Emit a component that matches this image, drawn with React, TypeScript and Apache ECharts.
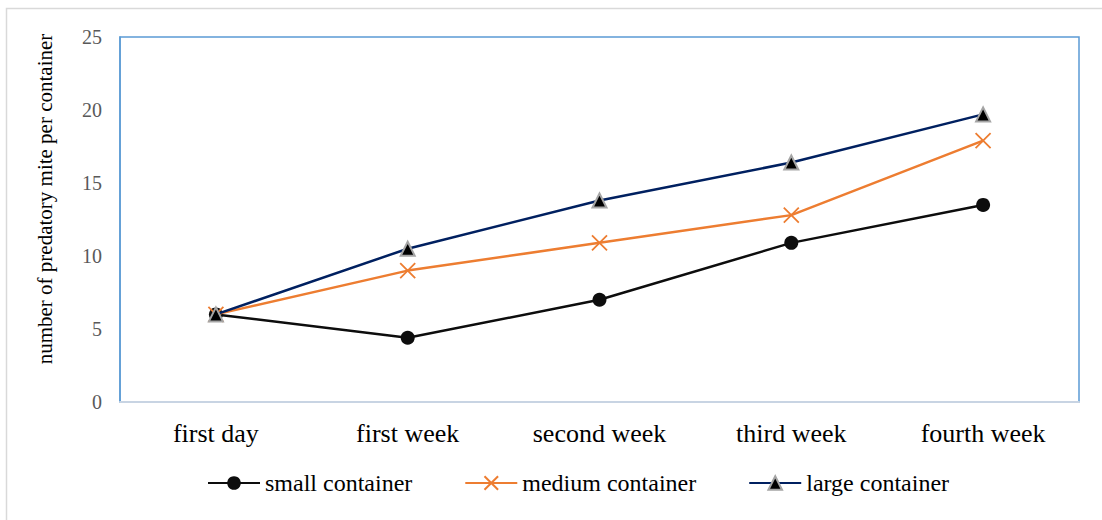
import React, { useEffect, useRef } from "react";
import * as echarts from "echarts";

// Sampling periods along the x axis
const periods = ["first day", "first week", "second week", "third week", "fourth week"];

// Mean number of predatory mites per container
const smallContainer = [6, 4.4, 7, 10.9, 13.5];
const mediumContainer = [6, 9, 10.9, 12.8, 17.9];
const largeContainer = [6, 10.5, 13.8, 16.4, 19.7];

const seriesNames = ["small container", "medium container", "large container"];
const yAxisTitle = "number of predatory mite per container";

const FONT = "'Liberation Serif', 'Times New Roman', serif";

export default function App() {
  const ref = useRef<HTMLDivElement>(null);

  useEffect(() => {
    document.body.style.margin = "0";
    if (!ref.current) return;
    const chart = echarts.init(ref.current, null, { renderer: "svg" });

    const option: echarts.EChartsOption = {
      animation: false,
      backgroundColor: "#ffffff",
      textStyle: { fontFamily: FONT },
      grid: {
        left: 120,
        top: 37,
        right: 23,
        bottom: 118,
        show: true,
        borderColor: "#5B9BD5",
        borderWidth: 1.5,
        backgroundColor: "transparent",
      },
      graphic: [
        {
          type: "rect",
          shape: { x: 6.5, y: 8.5, width: 1200, height: 600 },
          style: { fill: "none", stroke: "#D9D9D9", lineWidth: 1.5 },
          silent: true,
          z: -10,
        },
        {
          type: "text",
          x: 45,
          y: 199,
          rotation: Math.PI / 2,
          style: {
            text: yAxisTitle,
            fontFamily: FONT,
            fontSize: 21,
            fill: "#000000",
            align: "center",
            verticalAlign: "middle",
          },
        },
      ],
      legend: {
        left: 202,
        top: 466,
        itemWidth: 52,
        itemHeight: 17,
        itemGap: 52,
        textStyle: { fontFamily: FONT, fontSize: 24, color: "#000000" },
        data: seriesNames,
      },
      xAxis: {
        type: "category",
        data: periods,
        boundaryGap: true,
        axisLine: { show: true, lineStyle: { color: "#C8D4E3", width: 2 } },
        axisTick: { show: false },
        axisLabel: {
          fontFamily: FONT,
          fontSize: 26,
          color: "#000000",
          margin: 18,
        },
        splitLine: { show: false },
      },
      yAxis: {
        type: "value",
        min: 0,
        max: 25,
        interval: 5,
        axisLine: { show: true, lineStyle: { color: "#5B9BD5", width: 1.5 } },
        axisTick: { show: false },
        axisLabel: {
          fontFamily: FONT,
          fontSize: 20,
          color: "#595959",
          margin: 18,
        },
        splitLine: { show: false },
      },
      series: [
        {
          name: seriesNames[0],
          type: "line",
          data: smallContainer,
          symbol: "circle",
          symbolSize: 14,
          lineStyle: { color: "#0D0D0D", width: 2.5 },
          itemStyle: { color: "#0D0D0D" },
          z: 2,
        },
        {
          name: seriesNames[1],
          type: "line",
          data: mediumContainer,
          symbol: "path://M0,0L10,10M10,0L0,10",
          symbolSize: 15,
          lineStyle: { color: "#ED7D31", width: 2.5 },
          itemStyle: { color: "#ED7D31", borderColor: "#ED7D31", borderWidth: 1.8 },
          z: 3,
        },
        {
          name: seriesNames[2],
          type: "line",
          data: largeContainer,
          symbol: "triangle",
          symbolSize: 14,
          lineStyle: { color: "#002060", width: 2.5 },
          itemStyle: { color: "#000000", borderColor: "#A5A5A5", borderWidth: 2 },
          z: 4,
        },
      ],
    };

    chart.setOption(option);
    return () => chart.dispose();
  }, []);

  return <div ref={ref} style={{ width: 1102, height: 520 }} />;
}
